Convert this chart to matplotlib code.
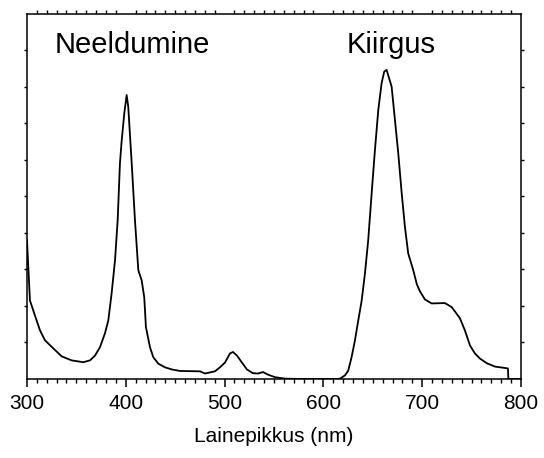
import matplotlib
matplotlib.use("Agg")
import matplotlib.pyplot as plt
from matplotlib.ticker import MultipleLocator

plt.rcParams['font.family'] = ['Liberation Sans', 'DejaVu Sans']

# spectrum: wavelength (nm) and intensity (arb. units)
wavelength = [300.0, 303.0, 309.8, 313.2, 318.2, 326.6, 335.1, 345.2, 357.0, 363.8,
              368.8, 373.9, 378.9, 382.3, 385.7, 389.1, 391.8, 394.1, 395.9, 398.5,
              400.9, 402.5, 406.0, 409.3, 412.7, 416.1, 418.7, 420.4, 424.5, 427.8,
              432.9, 439.7, 446.8, 454.9, 475.1, 480.2, 485.2, 490.3, 495.3, 500.4,
              505.5, 508.5, 512.6, 517.6, 522.7, 528.7, 533.8, 538.9, 543.9, 551.0,
              561.1, 576.3, 613.8, 616.8, 621.9, 625.2, 628.6, 632.0, 635.3, 638.8,
              642.1, 645.4, 648.9, 652.2, 655.6, 659.0, 661.6, 664.0, 669.1, 672.5,
              675.8, 679.3, 682.6, 685.9, 691.0, 694.7, 697.8, 702.8, 709.6, 723.1,
              729.9, 733.2, 738.3, 743.3, 748.4, 753.4, 758.5, 765.6, 773.7, 786.8,
              787.3, 800.0]
intensity = [3.80, 2.15, 1.60, 1.33, 1.06, 0.84, 0.62, 0.51, 0.46, 0.51,
             0.64, 0.87, 1.25, 1.60, 2.35, 3.25, 4.35, 5.91, 6.54, 7.28,
             7.78, 7.46, 5.91, 4.35, 2.98, 2.70, 2.24, 1.42, 0.87, 0.60,
             0.42, 0.32, 0.26, 0.22, 0.21, 0.15, 0.18, 0.21, 0.32, 0.45,
             0.70, 0.74, 0.64, 0.45, 0.26, 0.16, 0.15, 0.19, 0.12, 0.05,
             0.01, 0.0, 0.0, 0.01, 0.10, 0.23, 0.60, 1.06, 1.60, 2.15,
             2.89, 3.80, 5.09, 6.27, 7.37, 8.11, 8.42, 8.47, 8.01, 7.09,
             6.19, 5.09, 4.16, 3.44, 2.98, 2.59, 2.40, 2.18, 2.07, 2.08,
             1.97, 1.85, 1.66, 1.33, 0.92, 0.70, 0.56, 0.43, 0.34, 0.29,
             0.0, 0.0]

xticks = [300, 400, 500, 600, 700, 800]
labels = {'Neeldumine': (407, 8.93), 'Kiirgus': (669, 8.93)}

fig = plt.figure(figsize=(5.44, 4.58), dpi=100)
ax = fig.add_axes([0.0496, 0.1725, 0.908, 0.797])

ax.plot(wavelength, intensity, color='black', lw=1.3)

ax.set_xlim(300, 800)
ax.set_ylim(0, 10)
ax.set_xticks(xticks)
ax.xaxis.set_minor_locator(MultipleLocator(10))
ax.set_yticks(range(1, 10))
ax.set_yticklabels([])

ax.tick_params(axis='x', which='major', direction='out', length=6, width=1.1,
               labelsize=15, pad=5, top=False)
ax.tick_params(axis='x', which='minor', direction='out', length=3, width=1.0,
               top=True)
ax.tick_params(axis='y', which='major', direction='out', length=2, width=1.0,
               right=True)
for s in ax.spines.values():
    s.set_linewidth(1.1)

ax.set_xlabel('Lainepikkus (nm)', fontsize=15, labelpad=10)

for txt, (x, y) in labels.items():
    ax.text(x, y, txt, fontsize=21, ha='center', va='baseline')

fig.savefig('out.png', dpi=100)
